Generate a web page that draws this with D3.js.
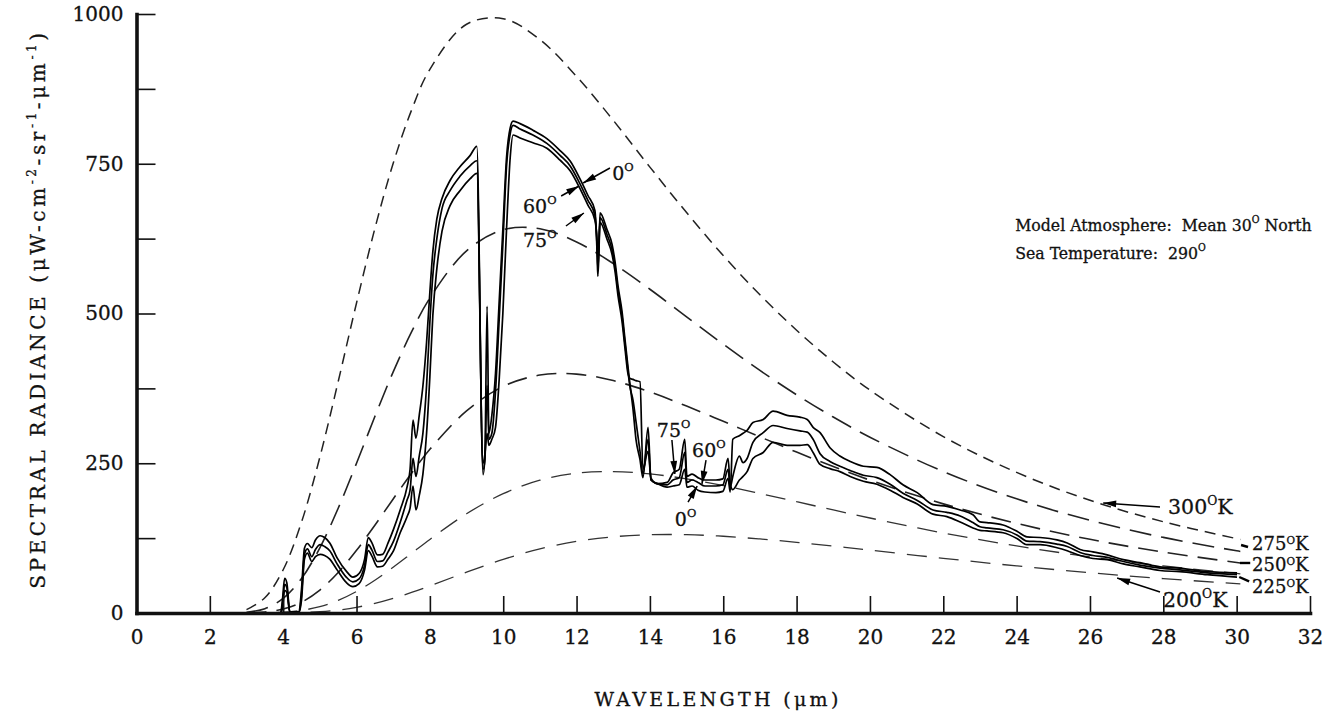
<!DOCTYPE html>
<html>
<head>
<meta charset="utf-8">
<script src="https://cdn.jsdelivr.net/npm/d3@7/dist/d3.min.js"></script>
<style>
  html, body { margin: 0; padding: 0; background: #fff; }
  svg { display: block; }
  text { font-family: "DejaVu Serif", serif; fill: #111; stroke: #111; stroke-width: 0.3px; }
</style>
</head>
<body>
<svg id="chart" width="1329" height="717"></svg>
<script>
// Blackbody reference curves: wavelength (µm) and spectral radiance (µW cm^-2 sr^-1 µm^-1)
const bbWavelength = [3, 3.5, 4, 4.5, 5, 5.5, 6, 6.5, 7, 7.5, 8, 9, 10, 11, 12, 13, 14, 15, 16, 17, 18, 19, 20, 22, 24, 26, 28, 30, 30.1];
const bb300 = [5.6, 25.4, 72.2, 151.8, 260.2, 386.5, 517.6, 641.8, 750.8, 839.4, 907.7, 982.9, 992.2, 957.2, 895.8, 822.5, 744.4, 668.5, 596.7, 531.2, 472.1, 419.1, 372.2, 294.5, 234.7, 188.1, 152.3, 124.1, 122.7];
const bb275 = [1.3, 7.3, 24.3, 57.6, 108.8, 174.9, 250.1, 328.0, 402.5, 469.2, 525.8, 604.6, 639.8, 641.5, 619.5, 583.4, 540.5, 494.5, 448.8, 404.9, 364.3, 327.1, 293.5, 236.2, 190.6, 154.7, 126.2, 103.8, 102.8];
const bb250 = [0.2, 1.6, 6.6, 18.0, 38.2, 67.6, 104.6, 146.6, 190.4, 233.4, 273.2, 337.4, 378.3, 397.2, 398.8, 388.0, 369.0, 345.5, 320.0, 294.1, 268.7, 244.4, 221.8, 182.2, 149.6, 123.0, 101.6, 84.4, 83.6];
const bb225 = [0.0, 0.3, 1.3, 4.4, 10.6, 21.1, 36.0, 54.8, 76.4, 99.5, 122.8, 165.7, 199.2, 221.7, 233.3, 236.1, 232.2, 224.0, 212.6, 199.5, 185.8, 172.0, 158.6, 133.6, 112.0, 93.7, 78.5, 66.0, 65.4];
const bb200 = [0.0, 0.0, 0.2, 0.7, 2.2, 4.9, 9.5, 16.0, 24.4, 34.3, 45.2, 68.2, 89.5, 107.0, 119.5, 127.2, 130.6, 130.7, 128.1, 123.6, 118.0, 111.7, 104.9, 91.3, 78.6, 67.2, 57.4, 49.0, 48.6];
const bbTemps = [300, 275, 250, 225, 200];

// Computed upwelling radiance for three zenith angles (0°, 60°, 75°)
const obsWavelength = [
  3.49, 3.93, 3.98, 4.04, 4.10, 4.18, 4.43, 4.50, 4.58, 4.66, 4.78, 4.88,
  5.01, 5.13, 5.27, 5.47, 5.72, 5.90, 6.07, 6.22, 6.32, 6.42, 6.57, 6.71, 6.86,
  7.01, 7.19, 7.38, 7.46, 7.54, 7.62, 7.71, 7.81, 7.91, 8.00, 8.08, 8.19, 8.33, 8.55, 8.82, 9.10, 9.28,
  9.45, 9.50, 9.56, 9.61, 9.69, 9.79, 9.89, 9.99, 10.09, 10.19, 10.27,
  10.46, 10.81, 11.19, 11.55, 11.83, 12.09, 12.31, 12.50, 12.56, 12.58, 12.61, 12.64, 12.83, 12.97, 13.05, 13.13, 13.24, 13.32, 13.40, 13.45,
  13.54, 13.62, 13.73, 13.81, 13.95, 14.03, 14.20, 14.47, 14.63, 14.80, 14.95, 15.01, 15.15, 15.31, 15.50, 15.80, 15.99, 16.13, 16.19, 16.26,
  16.44, 16.54, 16.65, 16.81, 17.09, 17.36, 17.74, 18.09, 18.29, 18.45, 18.64, 18.91, 19.18, 19.46, 19.82, 20.19, 20.55, 20.90, 21.29, 21.72,
  22.10, 22.46, 22.81, 23.00, 23.19, 23.63, 24.02, 24.28, 24.64, 25.10, 25.38, 25.73, 26.08, 26.47, 26.91, 27.36, 27.91, 28.45, 29.20, 30.01
];
const obs0 = [
  0, 0, 22, 58, 50, 2, 2, 40, 108, 116, 109, 122,
  129, 126, 117, 92, 70, 60, 66, 90, 126, 117, 97, 98, 117,
  140, 172, 211, 240, 322, 292, 330, 379, 452, 536, 603, 658, 692, 722, 745, 764, 779,
  231, 260, 512, 300, 330, 400, 520, 640, 760, 810, 821,
  817, 806, 792, 772, 754, 725, 697, 672, 600, 562, 600, 668, 640, 615, 586, 546, 503, 457, 412, 385,
  340, 290, 256, 226, 310, 222, 216, 210, 212, 214, 240, 210, 212, 205, 202, 201, 203, 225, 202, 290,
  296, 300, 305, 318, 323, 337, 330, 327, 323, 310, 301, 276, 262, 253, 245, 243, 231, 214, 201, 181,
  178, 172, 164, 152, 151, 147, 136, 127, 126, 122, 117, 106, 102, 97, 89, 84, 77, 75, 69, 67
];
const obs60 = [
  0, 0, 14, 48, 42, 2, 1, 30, 98, 107, 94, 106,
  114, 111, 104, 82, 60, 52, 57, 80, 114, 105, 86, 87, 102,
  120, 151, 189, 205, 258, 228, 262, 300, 380, 486, 563, 625, 675, 705, 729, 747, 755,
  240, 255, 380, 290, 300, 370, 490, 615, 745, 800, 814,
  808, 798, 784, 764, 746, 717, 689, 664, 610, 575, 610, 660, 632, 606, 578, 538, 495, 450, 405, 380,
  355, 320, 270, 232, 290, 222, 216, 214, 222, 226, 268, 218, 222, 218, 212, 212, 214, 240, 210, 228,
  262, 251, 258, 285, 301, 313, 308, 304, 302, 290, 266, 253, 245, 238, 230, 226, 215, 200, 188, 172,
  168, 162, 151, 144, 142, 139, 130, 120, 119, 115, 111, 101, 96, 93, 86, 80, 75, 72, 67, 64
];
const obs75 = [
  0, 0, 8, 38, 34, 2, 1, 22, 90, 100, 86, 94,
  98, 96, 90, 72, 51, 44, 49, 72, 104, 95, 77, 78, 90,
  104, 134, 161, 175, 212, 172, 196, 232, 300, 395, 496, 575, 637, 680, 705, 725, 734,
  250, 265, 300, 280, 290, 310, 390, 500, 640, 760, 798,
  793, 785, 776, 756, 738, 709, 681, 656, 620, 590, 620, 652, 624, 598, 570, 530, 487, 442, 400, 392,
  390, 388, 386, 240, 270, 225, 216, 218, 234, 240, 290, 228, 232, 226, 222, 222, 224, 258, 215, 206,
  222, 228, 236, 258, 268, 285, 280, 280, 281, 268, 248, 241, 236, 228, 220, 215, 205, 193, 182, 165,
  161, 152, 142, 138, 137, 134, 124, 114, 114, 109, 104, 96, 91, 89, 82, 77, 71, 69, 64, 60
];

// Axis ticks
const xTicks = d3.range(0, 33, 2);
const yTicks = d3.range(0, 1001, 125);
const yLabelTicks = [0, 250, 500, 750, 1000];

const svg = d3.select("#chart");
const x = d3.scaleLinear().domain([0, 32]).range([136.5, 1310]);
const y = d3.scaleLinear().domain([0, 1000]).range([613, 14]);

// ---- blackbody curves (dashed) ----
const bbStyles = {
  300: { dash: "11,7", width: 1.5, color: "#222" },
  275: { dash: "22,10", width: 1.6, color: "#222" },
  250: { dash: "20,10", width: 1.6, color: "#222" },
  225: { dash: "20,11", width: 1.3, color: "#333" },
  200: { dash: "20,12", width: 1.3, color: "#333" }
};
const bbValues = { 300: bb300, 275: bb275, 250: bb250, 225: bb225, 200: bb200 };
const bbLine = d3.line().x(d => x(d[0])).y(d => y(d[1])).curve(d3.curveCatmullRom.alpha(0.5));

svg.append("g").attr("class", "blackbody")
  .selectAll("path")
  .data(bbTemps)
  .join("path")
  .attr("d", t => bbLine(bbWavelength.map((w, i) => [w, bbValues[t][i]])))
  .attr("fill", "none")
  .attr("stroke", t => bbStyles[t].color)
  .attr("stroke-width", t => bbStyles[t].width)
  .attr("stroke-dasharray", t => bbStyles[t].dash);

// ---- measured curves (solid) ----
const obsLine = d3.line().x(d => x(d[0])).y(d => y(d[1])).curve(d3.curveMonotoneX);
const obsSeries = [obs0, obs60, obs75];
svg.append("g").attr("class", "observed")
  .selectAll("path")
  .data(obsSeries)
  .join("path")
  .attr("d", vals => obsLine(obsWavelength.map((w, i) => [w, vals[i]])))
  .attr("fill", "none")
  .attr("stroke", "#000")
  .attr("stroke-width", 1.7)
  .attr("stroke-linejoin", "round");

// ---- axes ----
const gx = svg.append("g")
  .attr("transform", `translate(0,${y(0)})`)
  .call(d3.axisBottom(x).tickValues(xTicks).tickSize(-17).tickSizeOuter(0).tickPadding(17));
const gy = svg.append("g")
  .attr("transform", `translate(${x(0)},0)`)
  .call(d3.axisLeft(y).tickValues(yTicks).tickSize(-19).tickSizeOuter(0).tickPadding(13)
    .tickFormat(d => yLabelTicks.includes(d) ? d : ""));

[gx, gy].forEach(g => {
  g.attr("font-family", null).attr("font-size", 20).attr("color", "#111");
  g.select(".domain").attr("stroke-width", 3.6).attr("stroke-linecap", "square");
  g.selectAll(".tick line").attr("stroke-width", 1.6);
});

// ---- text helpers ----
function richText(parent, px, py, parts, size, opts = {}) {
  const t = parent.append("text")
    .attr("x", px).attr("y", py)
    .attr("font-size", size);
  if (opts.anchor) t.attr("text-anchor", opts.anchor);
  if (opts.family) t.style("font-family", opts.family);
  if (opts.spacing) t.attr("letter-spacing", opts.spacing);
  if (opts.transform) t.attr("transform", opts.transform);
  const rise = size * (opts.rise || 0.45);
  const supScale = opts.supScale || 0.6;
  let raised = false;
  parts.forEach(p => {
    const s = t.append("tspan").text(p.t);
    if (p.sup && !raised) { s.attr("dy", -rise).attr("font-size", size * supScale); raised = true; }
    else if (p.sup) { s.attr("font-size", size * supScale); }
    else if (raised) { s.attr("dy", rise); raised = false; }
  });
  return t;
}

function arrow(parent, a, b, head = 13, half = 3.4) {
  const x1 = x(a[0]), y1 = y(a[1]), x2 = x(b[0]), y2 = y(b[1]);
  parent.append("line")
    .attr("x1", x1).attr("y1", y1).attr("x2", x2).attr("y2", y2)
    .attr("stroke", "#000").attr("stroke-width", 1.5);
  const ang = Math.atan2(y2 - y1, x2 - x1);
  const bx = x2 - head * Math.cos(ang), by = y2 - head * Math.sin(ang);
  const nx = -Math.sin(ang) * half, ny = Math.cos(ang) * half;
  parent.append("path")
    .attr("d", `M${x2},${y2}L${bx + nx},${by + ny}L${bx - nx},${by - ny}Z`)
    .attr("fill", "#000");
}

function tick(parent, a, b) {
  parent.append("line")
    .attr("x1", x(a[0])).attr("y1", y(a[1])).attr("x2", x(b[0])).attr("y2", y(b[1]))
    .attr("stroke", "#000").attr("stroke-width", 2.4);
}

const ann = svg.append("g").attr("class", "annotations");
const deg = "O";
const gap = "\u00a0\u00a0";

// axis titles
richText(ann, 0, 0,
  [{ t: "SPECTRAL RADIANCE (\u03bcW-cm" }, { t: "-2", sup: true }, { t: "-sr" }, { t: "-1", sup: true },
   { t: "-\u03bcm" }, { t: "-1", sup: true }, { t: ")" }],
  20, { anchor: "middle", spacing: 3.6, transform: "translate(45,309) rotate(-90)" });
richText(ann, 718, 706, [{ t: "WAVELENGTH (\u03bcm)" }], 19, { anchor: "middle", spacing: 3.3 });

// model description
const descFont = "'DejaVu Serif Condensed', 'DejaVu Serif', serif";
richText(ann, x(23.96), y(638), [{ t: "Model Atmosphere:" + gap + "Mean 30" }, { t: deg, sup: true }, { t: " North" }], 17.5,
  { family: descFont });
richText(ann, x(23.96), y(591), [{ t: "Sea Temperature:" + gap + "290" }, { t: deg, sup: true }], 17.5,
  { family: descFont });

// temperature labels
const tempLabelPos = {
  300: [28.13, 165.3], 275: [30.42, 105.0], 250: [30.42, 70.1], 225: [30.42, 33.5], 200: [27.99, 10.0]
};
bbTemps.forEach(t => {
  const p = tempLabelPos[t];
  const side = t === 300 || t === 200;
  richText(ann, x(p[0]), y(p[1]), [{ t: String(t) }, { t: deg, sup: true }, { t: "K" }],
    side ? 20.5 : 18, side ? {} : { rise: 0.33, supScale: 0.58 });
});
arrow(ann, [27.91, 177], [26.36, 183.6]);
arrow(ann, [27.91, 35.1], [26.74, 58.4]);
tick(ann, [30.12, 113.5], [30.31, 110.2]);
tick(ann, [30.09, 83.5], [30.37, 83.5]);
tick(ann, [30.07, 60.1], [30.34, 52.8]);

// zenith-angle labels near the window peak
const angleSize = 19;
richText(ann, x(12.97), y(722.9), [{ t: "0" }, { t: deg, sup: true }], angleSize);
richText(ann, x(10.54), y(667.8), [{ t: "60" }, { t: deg, sup: true }], angleSize);
richText(ann, x(10.54), y(611), [{ t: "75" }, { t: deg, sup: true }], angleSize);
arrow(ann, [12.91, 742.9], [12.18, 717.9]);
arrow(ann, [11.58, 696.2], [12.07, 712.9]);
arrow(ann, [11.71, 646.1], [12.20, 667.8]);

// zenith-angle labels in the 15 µm band
richText(ann, x(14.19), y(293.8), [{ t: "75" }, { t: deg, sup: true }], angleSize);
richText(ann, x(15.15), y(260.4), [{ t: "60" }, { t: deg, sup: true }], angleSize);
richText(ann, x(14.68), y(146), [{ t: "0" }, { t: deg, sup: true }], angleSize);
arrow(ann, [14.60, 288.8], [14.68, 232.1]);
arrow(ann, [15.53, 255.4], [15.42, 215.4]);
arrow(ann, [15.04, 185.3], [15.29, 212]);
</script>
</body>
</html>
